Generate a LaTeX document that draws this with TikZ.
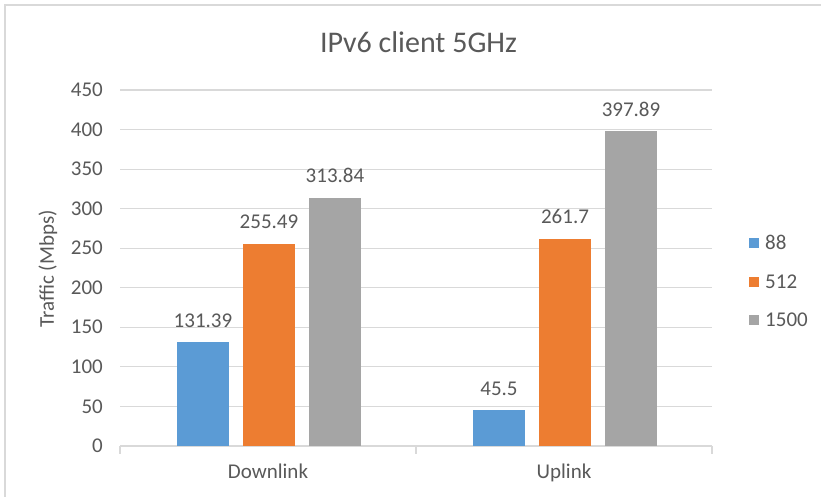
\documentclass[tikz,border=0pt]{standalone}
\usepackage{fontspec}
\setmainfont{Carlito}
\definecolor{sblue}{HTML}{5B9BD5}
\definecolor{sorange}{HTML}{ED7D31}
\definecolor{sgray}{HTML}{A5A5A5}
\definecolor{txt}{HTML}{595959}
\definecolor{gridc}{HTML}{D9D9D9}
\begin{document}
\begin{tikzpicture}[x=1pt,y=1pt,
  gridline/.style={draw=gridc,line width=1.2pt},
  frameline/.style={draw=gridc,line width=2pt},
  ticklbl/.style={anchor=base east,inner sep=0pt,text=txt,font=\fontsize{21}{24}\selectfont},
  vallbl/.style={anchor=base,inner sep=0pt,text=txt,font=\fontsize{21}{24}\selectfont},
  catlbl/.style={anchor=base,inner sep=0pt,text=txt,font=\fontsize{21}{24}\selectfont},
  leglbl/.style={anchor=base west,inner sep=0pt,text=txt,font=\fontsize{21}{24}\selectfont},
  legsq/.style={minimum size=10pt,inner sep=0pt,draw=none},
]
\useasboundingbox (0,0) rectangle (821,497);
\fill[white] (0,0) rectangle (821,497);
\draw[frameline] (5,0) -- (5,492) -- (821,492);
% title
\node[anchor=base,inner sep=0pt,text=txt,font=\fontsize{30}{34}\selectfont] (title) at (418.5,444) {IPv6 client 5GHz};
% gridlines and tick labels
\foreach \v in {0,50,...,450}{
  \pgfmathsetmacro{\yy}{51+\v*0.7911}
  \draw[gridline] (120,\yy) -- (712,\yy);
  \node[ticklbl] (t\v) at (103,\yy-6.6) {\v};
}
% axis ticks
\foreach \xx in {120,416,712}{
  \draw[gridline] (\xx,51) -- (\xx,43);
}
% axis title
\node[rotate=90,inner sep=0pt,text=txt,font=\fontsize{21}{24}\selectfont] (ytitle) at (48,228) {Traffic (Mbps)};
% bars
\foreach \xl/\v/\c/\nm in {177/131.39/sblue/a,243/255.49/sorange/b,309/313.84/sgray/c,473/45.5/sblue/d,539/261.7/sorange/e,605/397.89/sgray/f}{
  \pgfmathsetmacro{\yt}{51+\v*0.7911}
  \fill[\c] (\xl,51) rectangle (\xl+52,\yt);
  \node[vallbl] (v\nm) at (\xl+26,\yt+15) {\v};
}
% categories
\node[catlbl] (down) at (268,18) {Downlink};
\node[catlbl] (up) at (564,18) {Uplink};
% legend
\node[legsq,fill=sblue] (sq1) at (754,254) {};
\node[leglbl] (l1) at (765,247.4) {88};
\node[legsq,fill=sorange] (sq2) at (754,215) {};
\node[leglbl] (l2) at (765,208.4) {512};
\node[legsq,fill=sgray] (sq3) at (754,177) {};
\node[leglbl] (l3) at (765,170.4) {1500};
\end{tikzpicture}
\end{document}
